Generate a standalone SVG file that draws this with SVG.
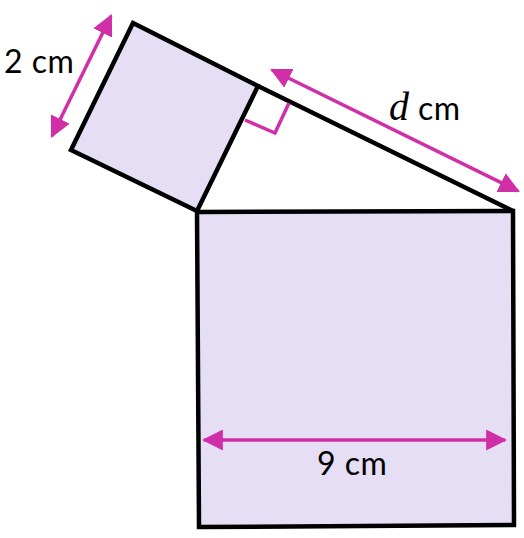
<svg xmlns="http://www.w3.org/2000/svg" width="524" height="538" viewBox="0 0 524 538">
<defs>
<style>
.sq{fill:#e5def5;stroke:#000;stroke-width:4.5;stroke-linejoin:miter}
.dim{stroke:#d02fa8;stroke-width:3.5;fill:none}
.lbl{font-family:"Lato","Liberation Sans",sans-serif;font-size:32px;letter-spacing:0.5px;fill:#000}
</style>
<marker id="ah" viewBox="0 0 10 10" refX="9" refY="5" markerWidth="6" markerHeight="6" orient="auto-start-reverse" markerUnits="strokeWidth">
<path d="M0,0 L10,5 L0,10 z" fill="#d02fa8"/>
</marker>
</defs>
<rect width="524" height="538" fill="#fff"/>
<g id="big-square"><polygon class="sq" points="197,212 513,211 514,525 199,527"/></g>
<g id="small-square"><polygon class="sq" points="133,23 258,86 197,211 71,150"/></g>
<g id="triangle"><polyline points="258,86 513,211" fill="none" stroke="#000" stroke-width="4.5"/></g>
<g id="connectors">
<polyline class="dim" points="245,120 275,133 289,103"/>
<line class="dim" x1="52" y1="136" x2="111" y2="16" marker-start="url(#ah)" marker-end="url(#ah)"/>
<line class="dim" x1="272" y1="70" x2="518" y2="191" marker-start="url(#ah)" marker-end="url(#ah)"/>
<line class="dim" x1="204" y1="440" x2="505" y2="440" marker-start="url(#ah)" marker-end="url(#ah)"/>
</g>
<g id="labels">
<text class="lbl" x="4" y="73">2 cm</text>
<text x="389" y="120" font-family="Liberation Serif,serif" font-style="italic" font-size="40">d</text>
<text class="lbl" x="418" y="120">cm</text>
<text class="lbl" x="317" y="475">9 cm</text>
</g>
</svg>
